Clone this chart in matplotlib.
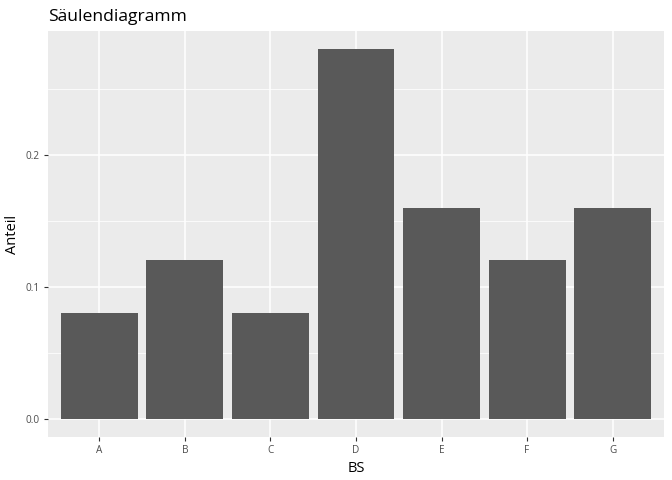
import numpy as np
import matplotlib
matplotlib.use("Agg")
import matplotlib.pyplot as plt

plt.rcParams['font.family'] = ['Open Sans', 'DejaVu Sans']

# Daten
categories = ['A', 'B', 'C', 'D', 'E', 'F', 'G']
shares = [0.08, 0.12, 0.08, 0.28, 0.16, 0.12, 0.16]
y_ticks = [0.0, 0.1, 0.2]
y_tick_labels = ['0.0', '0.1', '0.2']
y_minor = [0.05, 0.15, 0.25]

fig = plt.figure(figsize=(6.72, 4.8), dpi=100)
ax = fig.add_axes([48 / 672, 43 / 480, 616 / 672, 406 / 480])

x = np.arange(1, len(categories) + 1)
ax.bar(x, shares, width=0.9, color='#595959', zorder=3)

ax.set_facecolor('#EBEBEB')
ax.set_xlim(0.4, len(categories) + 0.6)
ax.set_ylim(-0.014, 0.294)

ax.set_xticks(x)
ax.set_xticklabels(categories)
ax.set_yticks(y_ticks)
ax.set_yticklabels(y_tick_labels)
ax.set_yticks(y_minor, minor=True)

ax.grid(which='major', color='white', linewidth=1.1, zorder=0)
ax.grid(which='minor', axis='y', color='white', linewidth=0.55, zorder=0)
ax.set_axisbelow(True)

for s in ax.spines.values():
    s.set_visible(False)

ax.tick_params(axis='both', which='major', length=3, width=0.8, color='#333333',
               labelsize=7.2, labelcolor='#4D4D4D', pad=3)
ax.tick_params(axis='y', which='minor', length=0)

ax.set_xlabel('BS', fontsize=10.5, color='black', labelpad=3)
ax.set_ylabel('Anteil', fontsize=10.5, color='black', labelpad=4)
ax.set_title('Säulendiagramm', fontsize=12.6, loc='left', pad=7)

fig.savefig('out.png', dpi=100)
